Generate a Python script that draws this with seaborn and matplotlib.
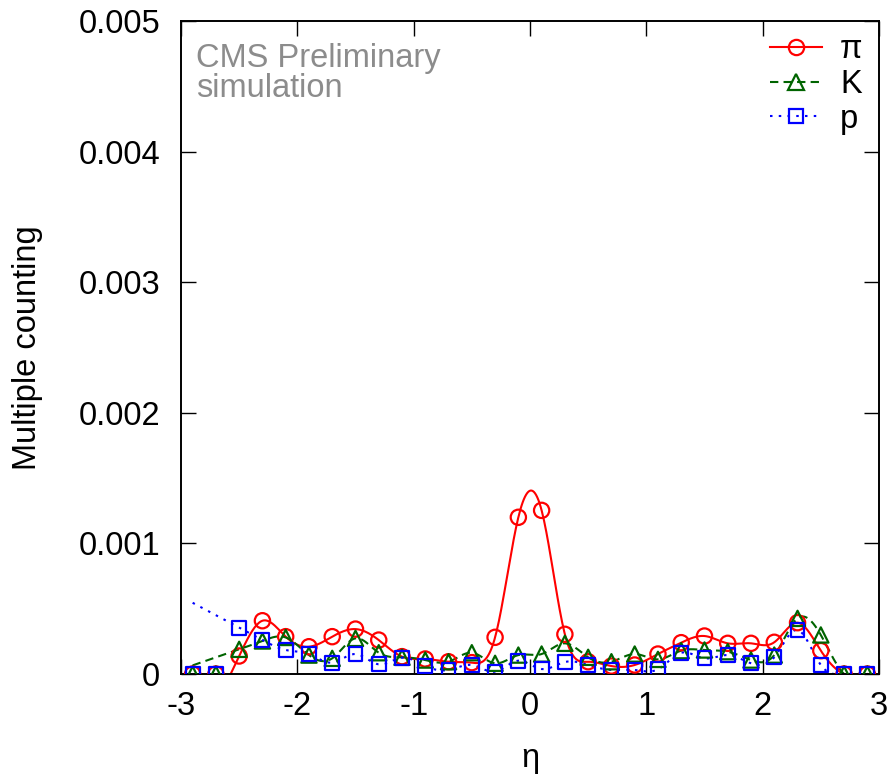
import numpy as np
import pandas as pd
import matplotlib
matplotlib.use("Agg")
import matplotlib.pyplot as plt
from matplotlib.lines import Line2D
import seaborn as sns

# ---------------- data ----------------
eta = [-2.9, -2.7, -2.5, -2.3, -2.1, -1.9, -1.7, -1.5, -1.3, -1.1,
       -0.9, -0.7, -0.5, -0.3, -0.1, 0.1, 0.3, 0.5, 0.7, 0.9,
       1.1, 1.3, 1.5, 1.7, 1.9, 2.1, 2.3, 2.5, 2.7, 2.9]
pion = [0.0, 0.0, 0.000138, 0.000408, 0.000286, 0.000209, 0.000286, 0.000344, 0.00026, 0.000133,
        0.000115, 0.000094, 0.000087, 0.000281, 0.0012, 0.001253, 0.000304, 0.000094, 0.000061, 0.000069,
        0.000153, 0.00024, 0.000291, 0.000235, 0.000235, 0.000243, 0.000393, 0.000179, 0.0, 0.0]
kaon = [0.0, 0.0, 0.000189, 0.000253, 0.00028, 0.000145, 0.00012, 0.000273, 0.000163, 0.000128,
        0.000107, 0.000094, 0.000163, 0.000082, 0.000145, 0.000153, 0.000235, 0.000128, 0.000094, 0.000153,
        0.000112, 0.000179, 0.000184, 0.000171, 0.000107, 0.000145, 0.000426, 0.000299, 0.0, 0.0]
proton = [0.0, 0.0, 0.000355, 0.00026, 0.000184, 0.000153, 0.000087, 0.000153, 0.000074, 0.000125,
          0.000061, 0.000031, 0.000069, 0.000018, 0.000102, 0.000038, 0.000092, 0.000069, 0.000031, 0.000031,
          0.000036, 0.000163, 0.00012, 0.000145, 0.000082, 0.000128, 0.000337, 0.000069, 0.0, 0.0]
series_names = ["π", "K", "p"]
x_ticks = [-3, -2, -1, 0, 1, 2, 3]
x_tick_labels = ["-3", "-2", "-1", "0", "1", "2", "3"]
y_ticks = [0, 0.001, 0.002, 0.003, 0.004, 0.005]
y_tick_labels = ["0", "0.001", "0.002", "0.003", "0.004", "0.005"]


def natural_spline(x, y, xs):
    x = np.asarray(x, float)
    y = np.asarray(y, float)
    n = len(x)
    h = np.diff(x)
    A = np.zeros((n, n))
    r = np.zeros(n)
    A[0, 0] = 1.0
    A[-1, -1] = 1.0
    for i in range(1, n - 1):
        A[i, i - 1] = h[i - 1]
        A[i, i] = 2 * (h[i - 1] + h[i])
        A[i, i + 1] = h[i]
        r[i] = 3 * ((y[i + 1] - y[i]) / h[i] - (y[i] - y[i - 1]) / h[i - 1])
    c = np.linalg.solve(A, r)
    b = (y[1:] - y[:-1]) / h - h * (2 * c[:-1] + c[1:]) / 3
    d = (c[1:] - c[:-1]) / (3 * h)
    xs = np.asarray(xs, float)
    out = np.empty_like(xs)
    for k, xv in enumerate(xs):
        if xv < x[0]:
            out[k] = y[0] + b[0] * (xv - x[0])
            continue
        i = min(np.searchsorted(x, xv, side="right") - 1, n - 2)
        dx = xv - x[i]
        out[k] = y[i] + b[i] * dx + c[i] * dx ** 2 + d[i] * dx ** 3
    return out


def curve(xv, yv):
    xv = np.asarray(xv)
    yv = np.asarray(yv)
    first = np.argmax(yv > 0)
    xs = np.linspace(xv[0], xv[-1], 600)
    return xs, natural_spline(xv[first:], yv[first:], xs)


FS = 23.5
plt.rcParams["font.family"] = ["Liberation Sans", "DejaVu Sans"]
fig = plt.figure(figsize=(8.96, 7.75), dpi=100)
ax = fig.add_axes([0.202, 0.1303, 0.779, 0.8426])

colors = ["#ff0000", "#006400", "#0000ff"]
markers = ["o", "^", "s"]
msizes = [11, 11, 10]
styles = ["-", (0, (4, 2.5)), (0, (1.2, 3))]
data = [pion, kaon, proton]

handles = []
for name, vals, col, mk, ms, ls in zip(series_names, data, colors, markers, msizes, styles):
    xs, ys = curve(eta, vals)
    sns.lineplot(x=xs, y=ys, ax=ax, color=col, linestyle=ls, linewidth=1.5,
                 sort=False, estimator=None, legend=False)
    sns.scatterplot(x=eta, y=vals, ax=ax, marker=mk, s=ms ** 2 * 1.0,
                    facecolors="none", edgecolor=col, linewidth=1.6, legend=False,
                    zorder=3, clip_on=True)
    handles.append(Line2D([], [], color=col, linestyle=ls, linewidth=1.5, marker=mk,
                          markersize=ms, markerfacecolor="none", markeredgecolor=col,
                          markeredgewidth=1.6))

ax.set_xlim(-3, 3)
ax.set_ylim(0, 0.005)
ax.set_xticks(x_ticks)
ax.set_xticklabels(x_tick_labels)
ax.set_yticks(y_ticks)
ax.set_yticklabels(y_tick_labels)
ax.tick_params(direction="in", length=11, width=1, top=True, right=True,
               labelsize=FS, colors="black")
ax.tick_params(axis="y", pad=15)
ax.tick_params(axis="x", pad=12)
for sp in ax.spines.values():
    sp.set_linewidth(1.4)
    sp.set_color("black")
ax.set_xlabel("η", fontsize=FS)
ax.set_ylabel("Multiple counting", fontsize=FS)
ax.xaxis.set_label_coords(0.5, (674 - 758) / 653)
ax.xaxis.label.set_va("center")
ax.yaxis.set_label_coords((28 - 181) / 698, 0.5)
ax.yaxis.label.set_va("center")

ax.text(0.022, 0.967, "CMS Preliminary\nsimulation", transform=ax.transAxes,
        fontsize=FS, color="#8c8c8c", va="top", ha="left", linespacing=0.97)

leg = ax.legend(handles, series_names, loc="upper right", frameon=False,
                fontsize=FS, handlelength=1.6, handletextpad=0.55, labelspacing=0.12,
                borderaxespad=0.0, bbox_to_anchor=(0.995, 1.0), numpoints=1)

fig.savefig("out.png", dpi=100)
